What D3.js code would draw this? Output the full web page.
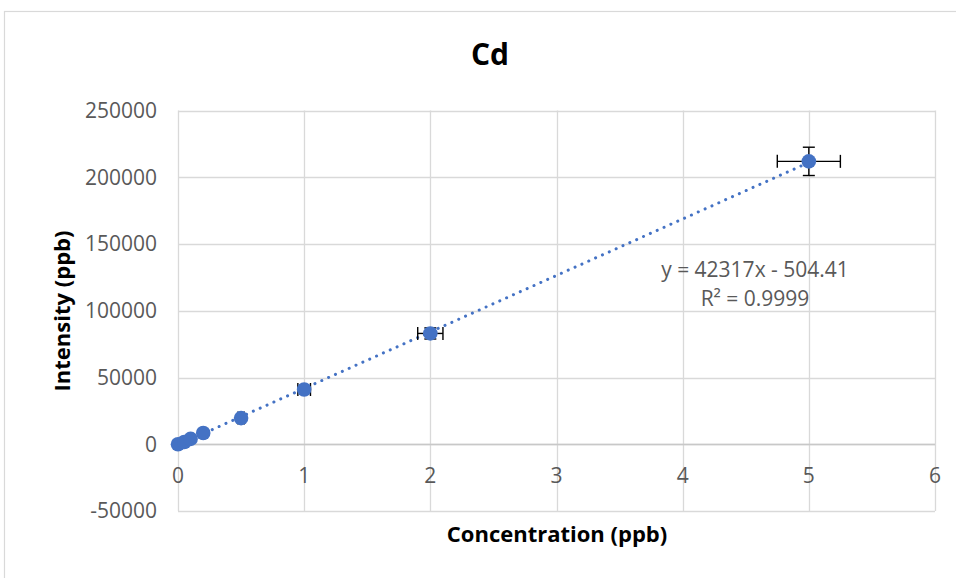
<!DOCTYPE html>
<html>
<head>
<meta charset="utf-8">
<script src="https://cdn.jsdelivr.net/npm/d3@7"></script>
<style>
  html, body { margin: 0; padding: 0; background: #fff; }
  svg { display: block; }
</style>
</head>
<body>
<svg id="chart" width="956" height="578"></svg>
<script>
// ---- data ----
const concentrations = [0, 0.05, 0.1, 0.2, 0.5, 1, 2, 5];
const intensities = [0, 1700, 4000, 8400, 19600, 41000, 83000, 211900];
const xErrors = [0, 0.0025, 0.005, 0.01, 0.025, 0.05, 0.1, 0.25];
const yErrors = [0, 85, 200, 420, 980, 2050, 4150, 10600];
const xTicks = [0, 1, 2, 3, 4, 5, 6];
const yTicks = [-50000, 0, 50000, 100000, 150000, 200000, 250000];
const trendSlope = 42317;
const trendIntercept = -504.41;
const trendRange = [0, 5];
const titleText = "Cd";
const xTitle = "Concentration (ppb)";
const yTitle = "Intensity (ppb)";
const equationLines = ["y = 42317x - 504.41", "R² = 0.9999"];

(function () {
// ---- layout ----
const svg = d3.select("#chart");
const pLeft = 178, pRight = 935, pTop = 110.5, pBottom = 511;
const blue = "#4472C4", grid = "#d9d9d9", textGray = "#595959";
const font = "'Open Sans', sans-serif";

const x = d3.scaleLinear().domain([0, 6]).range([pLeft, pRight]);
const y = d3.scaleLinear().domain([-50000, 250000]).range([pBottom, pTop]);

// chart area border
svg.append("rect").attr("x", 4.5).attr("y", 11.5).attr("width", 1000).attr("height", 1000)
  .attr("fill", "#fff").attr("stroke", grid).attr("stroke-width", 1.2);

// gridlines
svg.append("g").selectAll("line").data(yTicks).join("line")
  .attr("x1", pLeft).attr("x2", pRight)
  .attr("y1", d => Math.round(y(d)) + 0.5).attr("y2", d => Math.round(y(d)) + 0.5)
  .attr("stroke", grid).attr("stroke-width", 1.3);
svg.append("g").selectAll("line").data(xTicks).join("line")
  .attr("y1", pTop).attr("y2", pBottom)
  .attr("x1", d => Math.round(x(d)) + 0.5).attr("x2", d => Math.round(x(d)) + 0.5)
  .attr("stroke", grid).attr("stroke-width", 1.3);

// axis at y = 0
svg.append("line").attr("x1", pLeft).attr("x2", pRight)
  .attr("y1", Math.round(y(0)) + 0.5).attr("y2", Math.round(y(0)) + 0.5)
  .attr("stroke", "#c8c8c8").attr("stroke-width", 1.3);

// y tick labels
svg.append("g").selectAll("text").data(yTicks).join("text")
  .attr("x", 157).attr("y", d => y(d)).attr("dy", "0.35em")
  .attr("text-anchor", "end").attr("font-family", font).attr("font-size", 21)
  .attr("fill", textGray).text(d => d);

// x tick labels
svg.append("g").selectAll("text").data(xTicks).join("text")
  .attr("x", d => x(d)).attr("y", y(0) + 31).attr("dy", "0.35em")
  .attr("text-anchor", "middle").attr("font-family", font).attr("font-size", 21)
  .attr("fill", textGray).text(d => d);

// trendline
svg.append("line")
  .attr("x1", x(trendRange[0])).attr("y1", y(trendSlope * trendRange[0] + trendIntercept))
  .attr("x2", x(trendRange[1])).attr("y2", y(trendSlope * trendRange[1] + trendIntercept))
  .attr("stroke", blue).attr("stroke-width", 3).attr("stroke-linecap", "round")
  .attr("stroke-dasharray", "0.1 7.4");

const pts = concentrations.map((c, i) => ({ c, v: intensities[i], ex: xErrors[i], ey: yErrors[i] }));

// error bars
const eb = svg.append("g").attr("stroke", "#000").attr("stroke-width", 1.4);
pts.forEach(p => {
  if (p.ex > 0) {
    eb.append("line").attr("x1", x(p.c - p.ex)).attr("x2", x(p.c + p.ex)).attr("y1", y(p.v)).attr("y2", y(p.v));
    eb.append("line").attr("x1", x(p.c - p.ex)).attr("x2", x(p.c - p.ex)).attr("y1", y(p.v) - 6.5).attr("y2", y(p.v) + 6.5);
    eb.append("line").attr("x1", x(p.c + p.ex)).attr("x2", x(p.c + p.ex)).attr("y1", y(p.v) - 6.5).attr("y2", y(p.v) + 6.5);
  }
  if (p.ey > 0) {
    eb.append("line").attr("x1", x(p.c)).attr("x2", x(p.c)).attr("y1", y(p.v - p.ey)).attr("y2", y(p.v + p.ey));
    eb.append("line").attr("x1", x(p.c) - 6).attr("x2", x(p.c) + 6).attr("y1", y(p.v - p.ey)).attr("y2", y(p.v - p.ey));
    eb.append("line").attr("x1", x(p.c) - 6).attr("x2", x(p.c) + 6).attr("y1", y(p.v + p.ey)).attr("y2", y(p.v + p.ey));
  }
});

// markers
svg.append("g").selectAll("circle").data(pts).join("circle")
  .attr("cx", d => x(d.c)).attr("cy", d => y(d.v)).attr("r", 7.3)
  .attr("fill", blue);

// equation
svg.append("g").selectAll("text").data(equationLines).join("text")
  .attr("x", 755).attr("y", (d, i) => 270 + i * 29).attr("dy", "0.35em")
  .attr("text-anchor", "middle").attr("font-family", font).attr("font-size", 21)
  .attr("fill", textGray).text(d => d);

// titles
svg.append("text").attr("x", 490).attr("y", 65).attr("text-anchor", "middle")
  .attr("font-family", font).attr("font-weight", "bold").attr("font-size", 30)
  .attr("fill", "#000").text(titleText);
svg.append("text").attr("x", 557).attr("y", 534).attr("dy", "0.35em").attr("text-anchor", "middle")
  .attr("font-family", font).attr("font-weight", "bold").attr("font-size", 22)
  .attr("fill", "#000").text(xTitle);
svg.append("text").attr("transform", "translate(62,311) rotate(-90)").attr("dy", "0.35em")
  .attr("text-anchor", "middle")
  .attr("font-family", font).attr("font-weight", "bold").attr("font-size", 22)
  .attr("fill", "#000").text(yTitle);
})();
</script>
</body>
</html>
